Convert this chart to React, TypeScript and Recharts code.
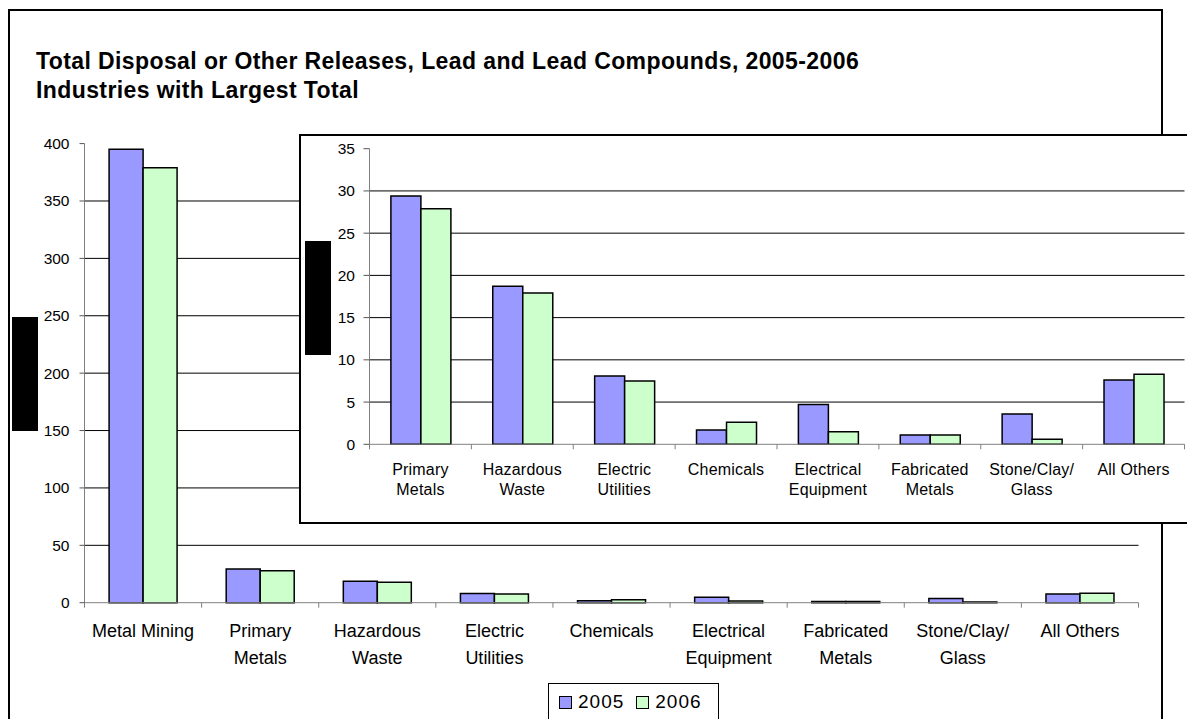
import React from 'react';
import { BarChart, Bar, XAxis, YAxis, CartesianGrid } from 'recharts';

// ─── data ─────────────────────────────────────────────────────────────
const categories = [
  'Metal Mining',
  'Primary\nMetals',
  'Hazardous\nWaste',
  'Electric\nUtilities',
  'Chemicals',
  'Electrical\nEquipment',
  'Fabricated\nMetals',
  'Stone/Clay/\nGlass',
  'All Others',
];
const values2005 = [395, 29.4, 18.7, 8.1, 1.7, 4.7, 1.1, 3.6, 7.6];
const values2006 = [379, 27.9, 17.9, 7.5, 2.6, 1.5, 1.1, 0.6, 8.3];

const mainTicks = [0, 50, 100, 150, 200, 250, 300, 350, 400];
const mainGrid = [50, 100, 150, 200, 250, 300, 350];
const insetTicks = [0, 5, 10, 15, 20, 25, 30, 35];
const insetGrid = [5, 10, 15, 20, 25, 30];

const series = [
  { key: 'v2005', name: '2005', fill: '#9999FF' },
  { key: 'v2006', name: '2006', fill: '#CCFFCC' },
];

const mainData = categories.map((name, i) => ({
  name,
  v2005: values2005[i],
  v2006: values2006[i],
}));
// inset leaves out Metal Mining
const insetData = mainData.slice(1);

// ─── layout ───────────────────────────────────────────────────────────
const FONT = '"Liberation Sans", Arial, sans-serif';
const W = 1187;
const H = 719;

const MAIN_MARGIN = { top: 143.6, right: 48.5, bottom: 56.3, left: 24.5 };
const AXIS_W = 60;
const MAIN_PLOT_W = W - MAIN_MARGIN.left - MAIN_MARGIN.right - AXIS_W;

const INSET_W = 900;
const INSET_H = 389;
const INSET_MARGIN = { top: 13.7, right: 15.5, bottom: 19.7, left: 9.5 };
const INSET_PLOT_W = INSET_W - INSET_MARGIN.left - INSET_MARGIN.right - AXIS_W;

type TickProps = { x: number; y: number; payload: { value: string }; index: number };

// category tick with Excel-style boundary marks and wrapped label
function makeTick(
  half: number,
  count: number,
  fontSize: number,
  line1: number,
  lineGap: number,
  spacing: number,
) {
  return function CatTick({ x, y, payload, index }: TickProps) {
    const lines = String(payload.value).split('\n');
    return (
      <g>
        <line x1={x - half} x2={x - half} y1={y} y2={y + 5} stroke="#808080" />
        {index === count - 1 && (
          <line x1={x + half} x2={x + half} y1={y} y2={y + 5} stroke="#808080" />
        )}
        <text
          x={x}
          y={y + line1}
          textAnchor="middle"
          fill="#000"
          fontSize={fontSize}
          fontFamily={FONT}
          letterSpacing={spacing}
        >
          {lines.map((ln, i) => (
            <tspan key={i} x={x} dy={i === 0 ? 0 : lineGap}>
              {ln}
            </tspan>
          ))}
        </text>
      </g>
    );
  };
}

const MainTick = makeTick(MAIN_PLOT_W / 9 / 2, 9, 18, 34.6, 26.7, 0);
const InsetTick = makeTick(INSET_PLOT_W / 8 / 2, 8, 16, 30.7, 20, 0.2);

export default function App() {
  return (
    <div
      style={{
        position: 'absolute',
        left: 0,
        top: 0,
        width: W,
        height: H,
        overflow: 'hidden',
        background: '#fff',
        fontFamily: FONT,
      }}
    >
      {/* outer frame */}
      <div
        style={{
          position: 'absolute',
          left: 8,
          top: 9,
          width: 1155,
          height: 730,
          border: '2px solid #000',
          boxSizing: 'border-box',
        }}
      />

      {/* title */}
      <div
        style={{
          position: 'absolute',
          left: 36,
          top: 47.4,
          fontSize: 23,
          fontWeight: 'bold',
          lineHeight: '28.6px',
          letterSpacing: 0.4,
          whiteSpace: 'nowrap',
        }}
      >
        Total Disposal or Other Releases, Lead and Lead Compounds, 2005-2006
        <br />
        Industries with Largest Total
      </div>

      {/* main chart */}
      <div style={{ position: 'absolute', left: 0, top: 0 }}>
        <BarChart
          width={W}
          height={H}
          data={mainData}
          margin={MAIN_MARGIN}
          barGap={0}
          barCategoryGap="21%"
        >
          <CartesianGrid vertical={false} stroke="#000" horizontalValues={mainGrid} />
          <XAxis
            dataKey="name"
            interval={0}
            height={60}
            tickLine={false}
            tickSize={0}
            tickMargin={0}
            axisLine={{ stroke: '#808080' }}
            tick={MainTick as any}
          />
          <YAxis
            width={AXIS_W}
            domain={[0, 400]}
            ticks={mainTicks}
            interval={0}
            tickSize={5}
            tickMargin={10}
            axisLine={{ stroke: '#808080' }}
            tickLine={{ stroke: '#555' }}
            tick={{ fill: '#000', fontSize: 15.5, fontFamily: FONT }}
          />
          {series.map((s) => (
            <Bar
              key={s.key}
              dataKey={s.key}
              name={s.name}
              fill={s.fill}
              stroke="#000"
              strokeWidth={1.5}
              isAnimationActive={false}
            />
          ))}
        </BarChart>
      </div>

      {/* redacted y-axis title, main */}
      <div
        style={{ position: 'absolute', left: 12, top: 317, width: 26, height: 114, background: '#000' }}
      />

      {/* inset chart */}
      <div
        style={{
          position: 'absolute',
          left: 300,
          top: 135,
          width: INSET_W,
          height: INSET_H,
          background: '#fff',
        }}
      >
        <BarChart
          width={INSET_W}
          height={INSET_H}
          data={insetData}
          margin={INSET_MARGIN}
          barGap={0}
          barCategoryGap="21%"
        >
          <CartesianGrid vertical={false} stroke="#000" horizontalValues={insetGrid} />
          <XAxis
            dataKey="name"
            interval={0}
            height={60}
            tickLine={false}
            tickSize={0}
            tickMargin={0}
            axisLine={{ stroke: '#808080' }}
            tick={InsetTick as any}
          />
          <YAxis
            width={AXIS_W}
            domain={[0, 35]}
            ticks={insetTicks}
            interval={0}
            tickSize={6}
            tickMargin={8.5}
            axisLine={{ stroke: '#808080' }}
            tickLine={{ stroke: '#555' }}
            tick={{ fill: '#000', fontSize: 15.5, fontFamily: FONT }}
          />
          {series.map((s) => (
            <Bar
              key={s.key}
              dataKey={s.key}
              name={s.name}
              fill={s.fill}
              stroke="#000"
              strokeWidth={1.5}
              isAnimationActive={false}
            />
          ))}
        </BarChart>
        <div
          style={{
            position: 'absolute',
            left: -1,
            top: -1,
            width: INSET_W + 10,
            height: INSET_H + 1,
            border: '2px solid #000',
            boxSizing: 'border-box',
          }}
        />
        {/* redacted y-axis title, inset */}
        <div
          style={{ position: 'absolute', left: 5, top: 106, width: 26, height: 114, background: '#000' }}
        />
      </div>

      {/* legend */}
      <div
        style={{
          position: 'absolute',
          left: 548,
          top: 683,
          width: 171,
          height: 38,
          border: '1px solid #000',
          boxSizing: 'border-box',
          display: 'flex',
          alignItems: 'center',
          paddingLeft: 10,
          fontSize: 19,
          letterSpacing: 1,
        }}
      >
        {series.map((s, i) => (
          <div key={s.key} style={{ display: 'flex', alignItems: 'center', marginLeft: i ? 12 : 0 }}>
            <span
              style={{
                display: 'inline-block',
                width: 13,
                height: 13,
                background: s.fill,
                border: '1px solid #000',
                boxSizing: 'border-box',
                marginRight: 6,
              }}
            />
            <span>{s.name}</span>
          </div>
        ))}
      </div>
    </div>
  );
}
